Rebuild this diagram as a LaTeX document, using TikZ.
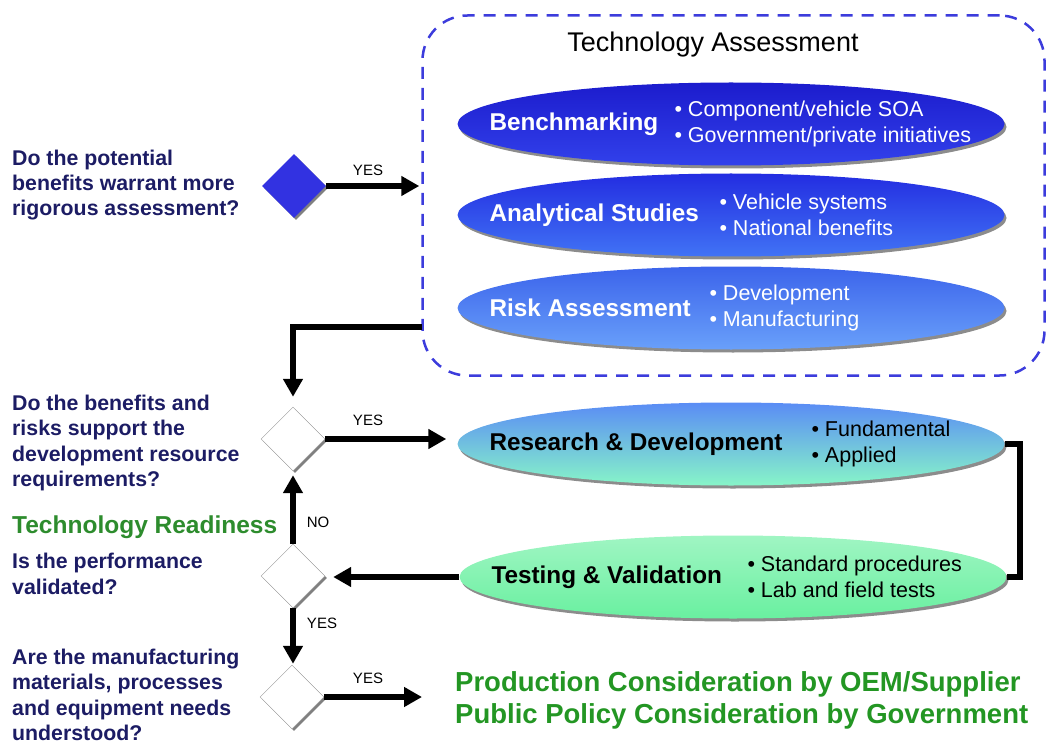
\documentclass[tikz,border=0pt]{standalone}
\usepackage{fontspec}
\setmainfont{Liberation Sans}
\usetikzlibrary{shapes.geometric,arrows.meta,shadows,positioning}

\definecolor{asknavy}{RGB}{28,28,100}
\definecolor{readygreen}{RGB}{45,140,45}
\definecolor{prodgreen}{RGB}{35,150,35}
\definecolor{boxblue}{RGB}{60,60,220}
\definecolor{diamblue}{RGB}{50,50,225}
\definecolor{bench-top}{RGB}{28,28,205}
\definecolor{bench-bot}{RGB}{50,65,235}
\definecolor{anal-top}{RGB}{35,45,225}
\definecolor{anal-bot}{RGB}{65,115,245}
\definecolor{risk-top}{RGB}{60,100,235}
\definecolor{risk-bot}{RGB}{105,160,250}
\definecolor{rd-top}{RGB}{90,140,245}
\definecolor{rd-bot}{RGB}{135,245,200}
\definecolor{tv-top}{RGB}{160,245,195}
\definecolor{tv-bot}{RGB}{105,240,160}

\newcommand*{\askfont}{\bfseries\fontsize{21.3}{25.3}\selectfont}
\newcommand*{\listfont}{\fontsize{21.5}{25.5}\selectfont}

\newcommand{\stagebox}[8]{%
% name, centre, top colour, bottom colour, text colour, title,
% offset of the bullet list, bullet list
  \node[stage, top color=#3, bottom color=#4] (#1) at (#2) {};
  \node[stagetitle, text=#5] (#1-title) at ([xshift=32pt]#1.west) {#6};
  \node[stagelist, text=#5] (#1-list) at ([xshift=#7]#1.west) {#8};
}

\tikzset{
  stage/.style = {ellipse, minimum width=547pt, minimum height=83pt, inner sep=0pt,
    drop shadow = {shadow xshift=2pt, shadow yshift=-3pt, fill=black!45, opacity=1}},
  stagetitle/.style = {anchor=west, inner sep=0pt, font=\bfseries\fontsize{24.3}{28}\selectfont},
  stagelist/.style = {anchor=west, inner sep=0pt, align=left, font=\listfont},
  decision/.style = {diamond, aspect=1, minimum size=64pt, inner sep=0pt,
    draw=black!40, fill=white,
    drop shadow = {shadow xshift=2pt, shadow yshift=-2pt, fill=black!50, opacity=1}},
  ask/.style = {anchor=west, inner sep=0pt, align=left, text=asknavy, font=\askfont},
  flow/.style = {line width=6pt, -{Triangle[length=18pt, width=19pt]}},
  answer/.style = {inner sep=0pt, font=\fontsize{15}{17}\selectfont},
}

\begin{document}
\begin{tikzpicture}[x=1pt, y=-1pt]
  \useasboundingbox (0,0) rectangle (1047,746);

  % technology assessment
  \node[draw=boxblue, line width=2.5pt, dash pattern=on 12pt off 9pt,
    rounded corners=45pt, minimum width=622pt, minimum height=360pt] (ta) at (733.5,195.5) {};
  \node[font=\fontsize{27}{30}\selectfont, inner sep=0pt] (ta-title) at (713,45) {Technology Assessment};

  \stagebox{bench}{731,124}{bench-top}{bench-bot}{white}{Benchmarking}{217pt}
    {• Component/vehicle SOA\\• Government/private initiatives}
  \stagebox{anal}{731,215}{anal-top}{anal-bot}{white}{Analytical Studies}{262pt}
    {• Vehicle systems\\• National benefits}
  \stagebox{risk}{731,308}{risk-top}{risk-bot}{white}{Risk Assessment}{252pt}
    {• Development\\• Manufacturing}

  % development loop
  \stagebox{rd}{731,444}{rd-top}{rd-bot}{black}{Research \& Development}{354pt}
    {• Fundamental\\• Applied}
  \stagebox{tv}{733,577}{tv-top}{tv-bot}{black}{Testing \& Validation}{288pt}
    {• Standard procedures\\• Lab and field tests}

  % decisions
  \node[decision, fill=diamblue, draw=none] (d1) at (294,186) {};
  \node[decision] (d2) at (293,439) {};
  \node[decision] (d3) at (293,576) {};
  \node[decision] (d4) at (292,697) {};

  \node[ask] (q1) at (12,185) {Do the potential\\benefits warrant more\\rigorous assessment?};
  \node[ask] (q2) at (12,443) {Do the benefits and\\risks support the\\development resource\\requirements?};
  \node[ask, text=readygreen, font=\bfseries\fontsize{24.5}{28}\selectfont] (ready) at (12,527) {Technology Readiness};
  \node[ask] (q3) at (12,574) {Is the performance\\validated?};
  \node[ask] (q4) at (12,695) {Are the manufacturing\\materials, processes\\and equipment needs\\understood?};

  \node[anchor=west, inner sep=0pt, align=left, text=prodgreen,
    font=\bfseries\fontsize{27.5}{32}\selectfont] (prod) at (455,700)
    {Production Consideration by OEM/Supplier\\Public Policy Consideration by Government};

  % connectors
  \coordinate (ta-exit) at (422,327);
  \draw[flow, shorten >=2pt] (d1.east) -- (d1.east -| ta.west);
  \draw[flow, shorten >=10pt] (ta-exit) -| (d2);
  \draw[flow, shorten >=11pt] (d2.east) -- (d2.east -| rd.west);
  \draw[line width=6pt] (rd.east) -- ++(15,0) |- (tv.east);
  \draw[flow, shorten >=8pt] (tv.west) -- (tv.west -| d3.east);
  \draw[flow, shorten >=4pt] (d3.north) -- (d2.south);
  \draw[flow, shorten >=1pt] (d3.south) -- (d3.south |- d4.north);
  \draw[flow, shorten >=33pt] (d4.east) -- (d4.east -| prod.west);

  \node[answer] (yes1) at (368,170) {YES};
  \node[answer] (yes2) at (368,420) {YES};
  \node[answer] (no3) at (318,522) {NO};
  \node[answer] (yes3) at (322,623) {YES};
  \node[answer] (yes4) at (368,678) {YES};
\end{tikzpicture}
\end{document}
